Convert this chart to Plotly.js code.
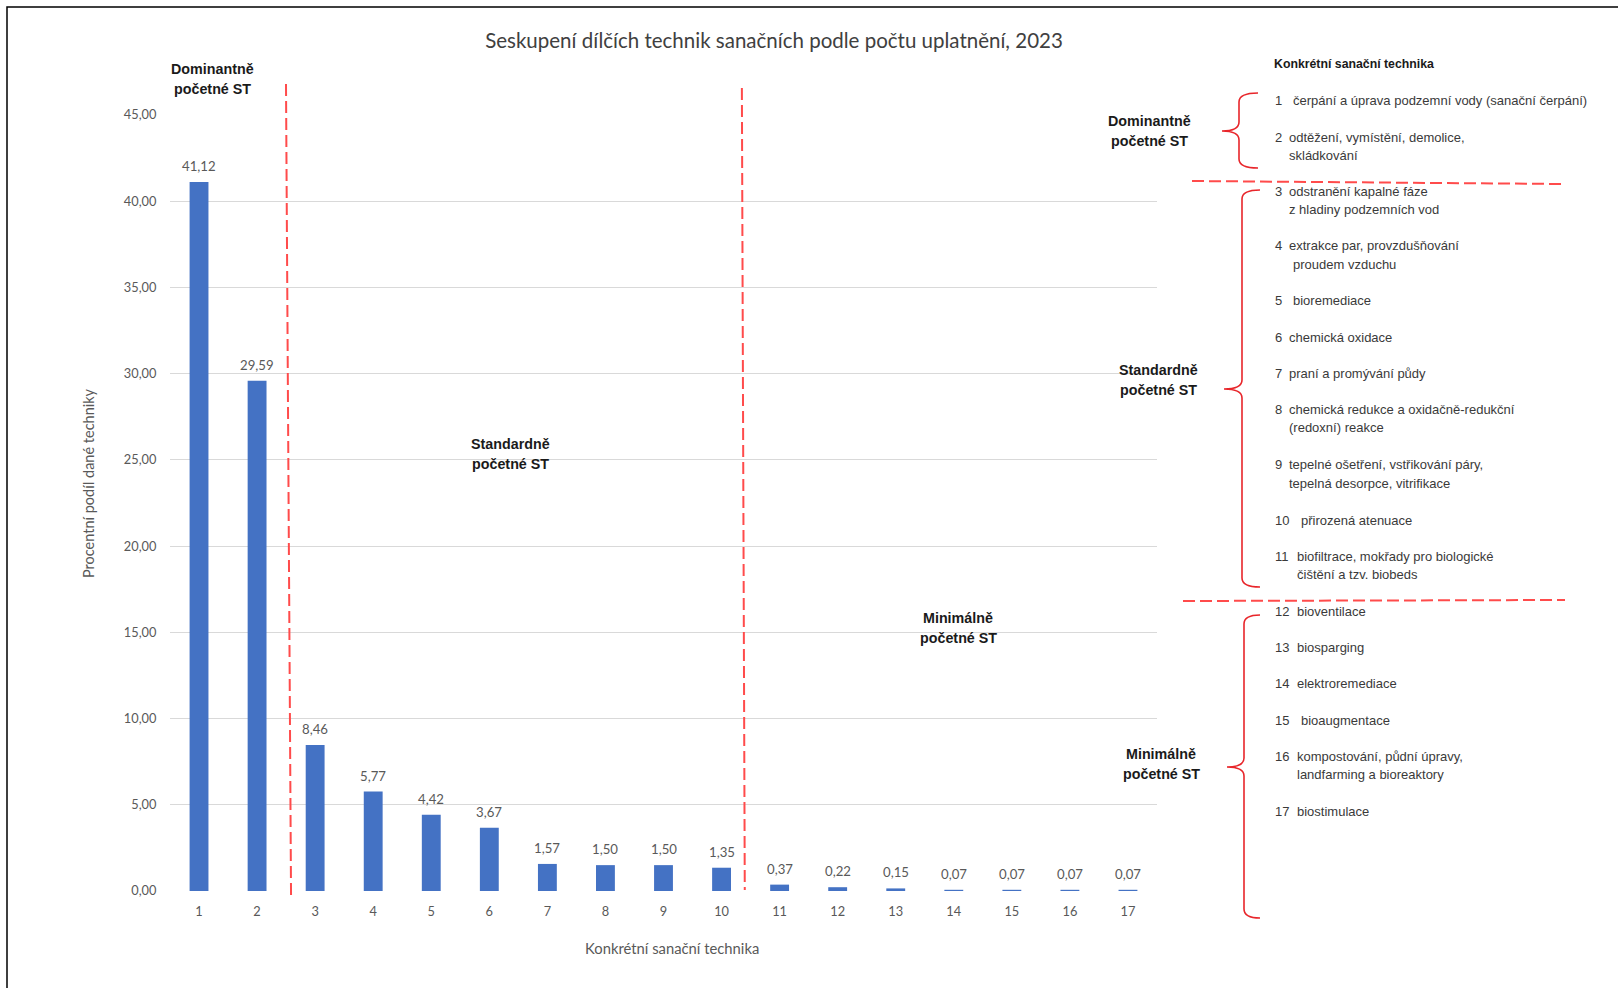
<!DOCTYPE html>
<html>
<head>
<meta charset="utf-8">
<script src="https://cdn.plot.ly/plotly-3.0.1.min.js"></script>
<style>html,body{margin:0;padding:0;background:#fff;}#chart{width:1618px;height:988px;}</style>
</head>
<body>
<div id="chart"></div>
<script>
// ---- data ----
const categories = ["1","2","3","4","5","6","7","8","9","10","11","12","13","14","15","16","17"];
const shares = [41.12, 29.59, 8.46, 5.77, 4.42, 3.67, 1.57, 1.50, 1.50, 1.35, 0.37, 0.22, 0.15, 0.07, 0.07, 0.07, 0.07];
const chartTitle = "Seskupení dílčích technik sanačních podle počtu uplatnění, 2023";
const xTitle = "Konkrétní sanační technika";
const yTitle = "Procentní podíl dané techniky";
const groupLine1 = ["Dominantně", "Standardně", "Minimálně"];
const groupLine2 = ["početné ST", "početné ST", "početné ST"];
const listHeader = "Konkrétní sanační technika";
const itemNumbers = ["1","2","3","4","5","6","7","8","9","10","11","12","13","14","15","16","17"];
const itemLine1 = [
  "čerpání a úprava podzemní vody (sanační čerpání)",
  "odtěžení, vymístění, demolice,",
  "odstranění kapalné fáze",
  "extrakce par, provzdušňování",
  "bioremediace",
  "chemická oxidace",
  "praní a promývání půdy",
  "chemická redukce a oxidačně-redukční",
  "tepelné ošetření, vstřikování páry,",
  "přirozená atenuace",
  "biofiltrace, mokřady pro biologické",
  "bioventilace",
  "biosparging",
  "elektroremediace",
  "bioaugmentace",
  "kompostování, půdní úpravy,",
  "biostimulace"
];
const itemLine2 = [
  "", "skládkování", "z hladiny podzemních vod", "proudem vzduchu", "", "", "",
  "(redoxní) reakce", "tepelná desorpce, vitrifikace", "", "čištění a tzv. biobeds",
  "", "", "", "", "landfarming a bioreaktory", ""
];

// ---- layout geometry (pixels) ----
const L = 170, R = 1157, T = 115, B = 891;
const px2x = p => (p - L) / (R - L);
const py2y = p => (B - p) / (B - T);
const itemY = [100, 137, 191, 246, 300, 337, 373, 409, 465, 520, 556, 611, 647, 683, 720, 756, 811];
const itemTextX = [1291, 1287, 1287, 1287, 1291, 1287, 1287, 1287, 1287, 1295, 1291, 1291, 1291, 1291, 1295, 1291, 1291];
const line2X = [1287, 1287, 1287, 1291, 1287, 1287, 1287, 1287, 1287, 1287, 1291, 1287, 1287, 1287, 1287, 1291, 1287];

const grey = "#595959";
const red = "#FF4B4B";
const boldFont = {family: "Liberation Sans, Arial, sans-serif", size: 14.3, color: "#1a1a1a", weight: 700};
const listFont = {family: "Liberation Sans, Arial, sans-serif", size: 13, color: "#3a3a3a"};

const fmt = v => v.toFixed(2).replace(".", ",");

const annotations = [];
function paperText(xp, yp, text, font, extra) {
  annotations.push(Object.assign({x: px2x(xp), y: py2y(yp), xref: "paper", yref: "paper", text: text,
    showarrow: false, xanchor: "center", yanchor: "middle", font: font}, extra || {}));
}
// data labels (x as category index)
categories.forEach((c, i) => {
  annotations.push({x: i, y: shares[i], xref: "x", yref: "y", text: fmt(shares[i]),
    showarrow: false, xanchor: "center", yanchor: "middle", yshift: 16,
    font: {family: "Lato, sans-serif", size: 13.2, color: grey}});
});
// axis titles
paperText(672, 948, xTitle, {family: "Lato, sans-serif", size: 14.8, color: grey});
paperText(88, 483, yTitle, {family: "Lato, sans-serif", size: 14.5, color: grey}, {textangle: -90});
// group labels in chart and by braces
const groupInChart = [[212, 79], [510, 454], [958, 628]];
const groupSide = [[1149, 131], [1158, 380], [1161, 764]];
[groupInChart, groupSide].forEach(pos => {
  pos.forEach((p, i) => {
    paperText(p[0], p[1] - 10.3, groupLine1[i], boldFont);
    paperText(p[0], p[1] + 10.3, groupLine2[i], boldFont);
  });
});
// list header
paperText(1272, 64, "<b>" + listHeader + "</b>", {family: "Liberation Sans, Arial, sans-serif", size: 12.3, color: "#1a1a1a"}, {xanchor: "left"});
// list items
itemNumbers.forEach((n, i) => {
  const off = n.length > 1 ? 4 : 0;
  paperText(1273, itemY[i], n, listFont, {xanchor: "left"});
  paperText(itemTextX[i] + off, itemY[i], itemLine1[i], listFont, {xanchor: "left"});
  if (itemLine2[i]) paperText(line2X[i] + off, itemY[i] + 18.3, itemLine2[i], listFont, {xanchor: "left"});
});

// braces
function brace(xEnd, xV, xTip, yTop, yTip, yBot) {
  const r = 9;
  const X = px2x, Y = py2y;
  return `M ${X(xEnd)},${Y(yTop)} Q ${X(xV)},${Y(yTop)} ${X(xV)},${Y(yTop + r)} ` +
         `L ${X(xV)},${Y(yTip - r)} Q ${X(xV)},${Y(yTip)} ${X(xTip)},${Y(yTip)} ` +
         `Q ${X(xV)},${Y(yTip)} ${X(xV)},${Y(yTip + r)} ` +
         `L ${X(xV)},${Y(yBot - r)} Q ${X(xV)},${Y(yBot)} ${X(xEnd)},${Y(yBot)}`;
}
const shapes = [
  // outer frame
  {type: "rect", xref: "paper", yref: "paper", x0: px2x(7), x1: px2x(1640), y0: py2y(7), y1: py2y(1010),
   line: {color: "#000", width: 1.5}, fillcolor: "rgba(0,0,0,0)"},
  // vertical dashed separators (category-index coordinates)
  {type: "line", xref: "x", yref: "paper", x0: 1.498, x1: 1.585, y0: py2y(84), y1: py2y(897),
   line: {color: red, width: 2, dash: "12px,5px"}},
  {type: "line", xref: "x", yref: "paper", x0: 9.35, x1: 9.40, y0: py2y(88), y1: py2y(890),
   line: {color: red, width: 2, dash: "12px,5px"}},
  // horizontal dashed separators on the right
  {type: "line", xref: "paper", yref: "paper", x0: px2x(1192), x1: px2x(1563), y0: py2y(181), y1: py2y(184),
   line: {color: red, width: 2, dash: "12px,5px"}},
  {type: "line", xref: "paper", yref: "paper", x0: px2x(1183), x1: px2x(1565), y0: py2y(601), y1: py2y(600),
   line: {color: red, width: 2, dash: "12px,5px"}},
  // braces
  {type: "path", xref: "paper", yref: "paper", path: brace(1258, 1239, 1222, 93, 131, 168), line: {color: "#E8262B", width: 1.6}},
  {type: "path", xref: "paper", yref: "paper", path: brace(1260, 1242, 1224, 190, 389, 587), line: {color: "#E8262B", width: 1.6}},
  {type: "path", xref: "paper", yref: "paper", path: brace(1260, 1244, 1227, 615, 767, 918), line: {color: "#E8262B", width: 1.6}}
];

const trace = {
  type: "bar", x: categories, y: shares,
  marker: {color: "#4472C4"}, hoverinfo: "skip"
};

const layout = {
  width: 1618, height: 988,
  margin: {l: L, r: 1618 - R, t: T, b: 988 - B, pad: 0},
  paper_bgcolor: "#fff", plot_bgcolor: "#fff",
  separators: ", ",
  bargap: 0.675,
  showlegend: false,
  title: {text: chartTitle, x: 774 / 1618, xanchor: "center", xref: "container",
          y: 1 - 41 / 988, yanchor: "middle", yref: "container",
          font: {family: "Lato, sans-serif", size: 20.5, color: "#404040"}},
  xaxis: {type: "category", range: [-0.5, 16.5], showgrid: false, zeroline: false, showline: false,
          ticks: "outside", ticklen: 9, tickcolor: "rgba(0,0,0,0)",
          tickfont: {family: "Lato, sans-serif", size: 12.8, color: grey}},
  yaxis: {range: [0, 45], dtick: 5, tickformat: ".2f", showgrid: true, gridcolor: "#D9D9D9", gridwidth: 1,
          zeroline: false, showline: false, ticks: "outside", ticklen: 10, tickcolor: "rgba(0,0,0,0)",
          tickfont: {family: "Lato, sans-serif", size: 12.8, color: grey}},
  annotations: annotations,
  shapes: shapes
};

Plotly.newPlot("chart", [trace], layout, {displayModeBar: false, staticPlot: true});
</script>
</body>
</html>
